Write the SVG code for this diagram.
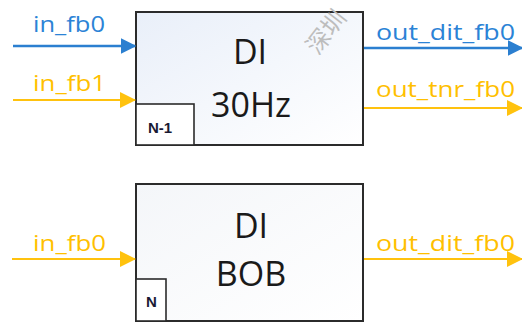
<svg xmlns="http://www.w3.org/2000/svg" width="522" height="324" viewBox="0 0 522 324">
<style>
.box{stroke:#2b2b2b;stroke-width:2}
.sub{fill:#ffffff;stroke:#2b2b2b;stroke-width:1.6}
.title{font-family:"Open Sans","Liberation Sans",sans-serif;font-size:34px;fill:#1a1a1a;text-anchor:middle}
.tag{font-family:"Liberation Sans",Arial,sans-serif;font-size:15px;font-weight:bold;fill:#1a1a33}
.lbl{font-family:"Open Sans","Liberation Sans",sans-serif;font-size:21px}
.blue{fill:#2b83d6}
.yel{fill:#ffbf00}
.bl{stroke:#2b7fd0;stroke-width:2.6;fill:none}
.yl{stroke:#ffc20e;stroke-width:2;fill:none}
.wm{font-family:"Noto Sans CJK SC",sans-serif;font-size:24px;fill:#bdbdbd}
</style>
<defs>
<linearGradient id="g1" x1="0" y1="0" x2="1" y2="1">
<stop offset="0" stop-color="#e9eff9"/>
<stop offset="1" stop-color="#ffffff"/>
</linearGradient>
<linearGradient id="g2" x1="0" y1="0" x2="1" y2="1">
<stop offset="0" stop-color="#f4f6f9"/>
<stop offset="1" stop-color="#ffffff"/>
</linearGradient>
<marker id="ab" markerWidth="6" markerHeight="6" refX="5.5" refY="3" orient="auto" markerUnits="strokeWidth">
<path d="M0,0 L6,3 L0,6 Z" fill="#2b7fd0"/>
</marker>
<marker id="ay" markerWidth="8" markerHeight="8" refX="7.5" refY="4" orient="auto" markerUnits="strokeWidth">
<path d="M0,0 L8,4 L0,8 Z" fill="#ffc20e"/>
</marker>
</defs>
<rect width="522" height="324" fill="#ffffff"/>
<g id="node-di30">
<rect class="box" x="136" y="12" width="227" height="133" fill="url(#g1)"/>
<text class="title" x="250" y="64">DI</text>
<text class="title" x="251" y="117">30Hz</text>
<rect class="sub" x="136" y="104" width="58" height="41"/>
<text class="tag" x="148" y="133">N-1</text>
</g>
<g id="node-dibob">
<rect class="box" x="136" y="184" width="227" height="137" fill="url(#g2)"/>
<text class="title" x="251" y="238">DI</text>
<text class="title" x="251" y="286">BOB</text>
<rect class="sub" x="136" y="279" width="30" height="42"/>
<text class="tag" x="146" y="307">N</text>
</g>
<g id="connectors">
<line class="bl" x1="13" y1="46" x2="135" y2="46" marker-end="url(#ab)"/>
<line class="yl" x1="13" y1="100" x2="135" y2="100" marker-end="url(#ay)"/>
<line class="bl" x1="364" y1="48" x2="522" y2="48" marker-end="url(#ab)"/>
<line class="yl" x1="364" y1="108" x2="522" y2="108" marker-end="url(#ay)"/>
<line class="yl" x1="12" y1="259" x2="135" y2="259" marker-end="url(#ay)"/>
<line class="yl" x1="364" y1="259" x2="522" y2="259" marker-end="url(#ay)"/>
<text class="lbl blue" x="33" y="32" textLength="72" lengthAdjust="spacingAndGlyphs">in_fb0</text>
<text class="lbl yel" x="33" y="91" textLength="73" lengthAdjust="spacingAndGlyphs">in_fb1</text>
<text class="lbl blue" x="376" y="40" textLength="139" lengthAdjust="spacingAndGlyphs">out_dit_fb0</text>
<text class="lbl yel" x="376" y="97" textLength="139" lengthAdjust="spacingAndGlyphs">out_tnr_fb0</text>
<text class="lbl yel" x="33" y="251" textLength="73" lengthAdjust="spacingAndGlyphs">in_fb0</text>
<text class="lbl yel" x="376" y="251" textLength="139" lengthAdjust="spacingAndGlyphs">out_dit_fb0</text>
</g>
<text class="wm" transform="translate(318,56) rotate(-52)">深圳</text>
</svg>
